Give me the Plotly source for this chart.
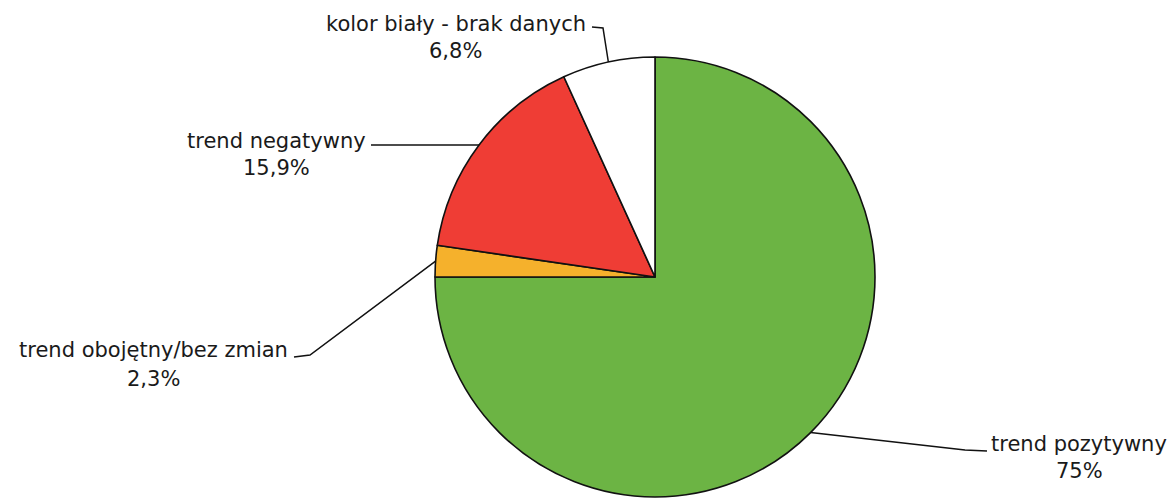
import math
import plotly.graph_objects as go

# ---- data ----
categories = ["trend pozytywny", "trend obojętny/bez zmian", "trend negatywny", "kolor biały - brak danych"]
values = [75.0, 2.3, 15.9, 6.8]
pct_labels = ["75%", "2,3%", "15,9%", "6,8%"]
colors = ["#6cb444", "#f5b12c", "#ef3d35", "#ffffff"]

W, H = 1173, 501
CX, CY, R = 655, 277, 220  # pie geometry in pixels (layout)

def px(x):
    return x / W

def py(y):
    return 1 - y / H

fig = go.Figure(go.Pie(
    labels=categories,
    values=values,
    sort=False,
    direction="clockwise",
    rotation=0,
    marker=dict(colors=colors, line=dict(color="#111111", width=1.6)),
    textinfo="none",
    hoverinfo="label+percent",
    showlegend=False,
    domain=dict(x=[px(CX - R), px(CX + R)], y=[py(CY + R), py(CY - R)]),
))

# anchor points on the pie edge at the middle of each slice
total = sum(values)
anchors = []
acc = 0.0
for v in values:
    mid = (acc + v / 2) / total * 2 * math.pi
    anchors.append((CX + R * math.sin(mid), CY - R * math.cos(mid)))
    acc += v

# label layout: (text center x, line1 y, line2 y, leader path points before anchor)
label_layout = [
    (1079, 444, 471, [(987, 451), (965, 450)]),
    (153, 350, 379, [(294, 357), (310, 355)]),
    (276, 141, 168, [(371, 145)]),
    (456, 24, 51, [(592, 27), (603, 28)]),
]

annotations = []
shapes = []
font = dict(family="DejaVu Sans", size=21, color="#1a1a1a")
for i, (tx, y1, y2, pts) in enumerate(label_layout):
    annotations.append(dict(x=px(tx), y=py(y1), xref="paper", yref="paper", text=categories[i],
                            showarrow=False, font=font, xanchor="center", yanchor="middle"))
    annotations.append(dict(x=px(tx), y=py(y2), xref="paper", yref="paper", text=pct_labels[i],
                            showarrow=False, font=font, xanchor="center", yanchor="middle"))
    allpts = pts + [anchors[i]]
    path = "M " + " L ".join(f"{px(x):.5f},{py(y):.5f}" for x, y in allpts)
    shapes.append(dict(type="path", path=path, xref="paper", yref="paper",
                       line=dict(color="#111111", width=1.5)))

fig.update_layout(
    width=W, height=H,
    margin=dict(l=0, r=0, t=0, b=0),
    paper_bgcolor="white",
    plot_bgcolor="white",
    annotations=annotations,
    shapes=shapes,
)

fig.write_html("out.html", config={"displayModeBar": False},
               post_script="document.body.style.margin='0px';")
